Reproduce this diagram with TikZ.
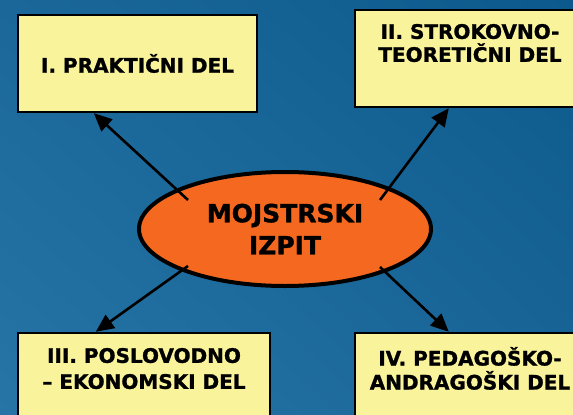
\documentclass[tikz,border=0pt]{standalone}
\usepackage{fontspec}
\setmainfont{DejaVu Sans}[BoldFeatures={FakeBold=1.2}]
\usetikzlibrary{arrows.meta,positioning,shapes.geometric,shadings}
\definecolor{bgtl}{HTML}{1B679A}
\definecolor{bgtr}{HTML}{0C5A8D}
\definecolor{bgbl}{HTML}{2675A6}
\definecolor{bgbr}{HTML}{1A6598}
\definecolor{partyellow}{HTML}{F9F39B}
\definecolor{izpitorange}{HTML}{F4691F}

\begin{document}
\begin{tikzpicture}[x=1pt,y=-1pt,>={Triangle[length=18pt,width=16pt]},
    part/.style={draw=black,line width=2.4pt,fill=partyellow,inner sep=0pt,minimum height=97pt},
    parttext/.style={font=\bfseries\fontsize{20}{#1}\selectfont,align=center,inner sep=0pt},
    parttext/.default=24,
    link/.style={->,line width=2.6pt}]
    \clip (0,0) rectangle (573,415);
    \shade[upper left=bgtl,upper right=bgtr,lower left=bgbl,lower right=bgbr] (0,0) rectangle (573,415);

    % the four parts
    \node[part,parttext,minimum width=239pt] (prak) at (137.5,63.5) {I. PRAKTIČNI DEL};

    \node[part,minimum width=230pt] (teo) at (470,58.5) {};
    \node[parttext=23,below=15pt of teo.north] (teot) {II. STROKOVNO-\\TEORETIČNI DEL};

    \node[part,minimum width=252pt] (posl) at (144,381.5) {};
    \node[parttext=26,below=16pt of posl.north] (poslt) {III. POSLOVODNO\\– EKONOMSKI DEL};

    \node[part,minimum width=230pt] (ped) at (470,381.5) {};
    \node[parttext=24,below=15pt of ped.north] (pedt) {IV. PEDAGOŠKO-\\ANDRAGOŠKI DEL};

    % the exam
    \node[ellipse,draw=black,line width=4pt,fill=izpitorange,minimum width=292pt,minimum height=114pt,
        inner sep=0pt,align=center,font=\bfseries\fontsize{25}{32}\selectfont] (izpit) at (285,229) {MOJSTRSKI\\IZPIT};

    \draw[link] ([shift={(-97,-29)}]izpit.center) -- ([xshift=77pt]prak.south west);
    \draw[link] ([shift={(95,-29)}]izpit.center) -- ([xshift=95pt]teo.south west);
    \draw[link] ([shift={(-97,37)}]izpit.center) -- ([xshift=79pt]posl.north west);
    \draw[link] ([shift={(95,38)}]izpit.center) -- ([xshift=95pt]ped.north west);
\end{tikzpicture}
\end{document}
